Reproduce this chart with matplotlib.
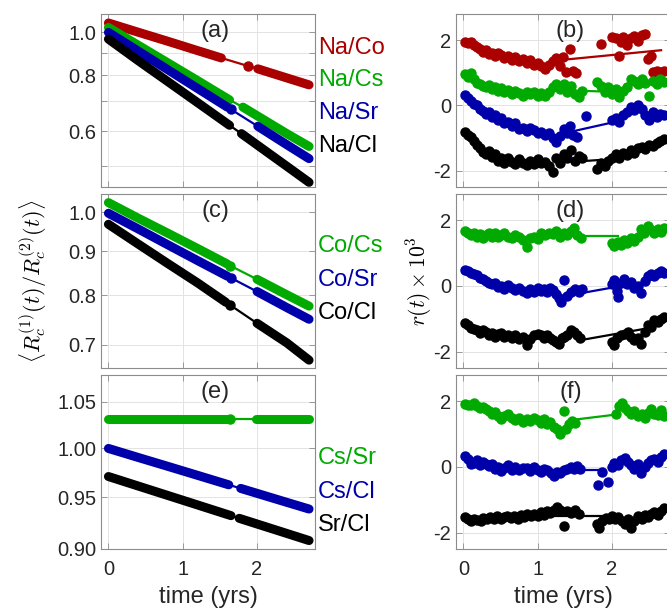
import numpy as np
import matplotlib
matplotlib.use("Agg")
import matplotlib.pyplot as plt

plt.rcParams['font.family'] = ['Liberation Sans', 'DejaVu Sans']
plt.rcParams['mathtext.fontset'] = 'cm'
plt.rcParams['axes.unicode_minus'] = False

RED = '#aa0000'
GREEN = '#00aa00'
BLUE = '#0000aa'
BLACK = '#000000'

# ---- left panels: ratio of count rates (values read at a few times) ----
# (a)
na_co_t = [0.0, 0.4, 0.8, 1.2, 1.52, 1.88, 2.01, 2.4, 2.7]
na_co_y = [1.050, 1.001, 0.955, 0.910, 0.876, 0.840, 0.828, 0.790, 0.762]
na_co_gap = (1.52, 2.01)
na_cs_t = [0.0, 0.4, 0.8, 1.2, 1.63, 1.81, 2.4, 2.7]
na_cs_y = [1.026, 0.936, 0.854, 0.779, 0.705, 0.679, 0.592, 0.554]
na_cs_gap = (1.63, 1.81)
na_sr_t = [0.0, 0.4, 0.8, 1.2, 1.6, 1.65, 2.01, 2.4, 2.7]
na_sr_y = [1.000, 0.908, 0.824, 0.748, 0.679, 0.671, 0.615, 0.559, 0.520]
na_sr_gap = (1.6, 2.01)
na_cl_t = [0.0, 0.4, 0.8, 1.2, 1.63, 1.79, 2.4, 2.7]
na_cl_y = [0.966, 0.864, 0.775, 0.695, 0.618, 0.592, 0.500, 0.460]
na_cl_gap = (1.63, 1.79)

# (c)
co_cs_t = [0.0, 0.4, 0.8, 1.2, 1.6, 1.64, 2.0, 2.4, 2.7]
co_cs_y = [1.026, 0.984, 0.945, 0.907, 0.870, 0.866, 0.835, 0.801, 0.777]
co_cs_gap = (1.6, 2.0)
co_sr_t = [0.0, 0.4, 0.8, 1.2, 1.6, 1.65, 2.0, 2.4, 2.7]
co_sr_y = [0.997, 0.956, 0.916, 0.878, 0.842, 0.838, 0.808, 0.774, 0.750]
co_sr_gap = (1.6, 2.0)
co_cl_t = [0.0, 0.4, 0.8, 1.2, 1.58, 1.64, 2.0, 2.4, 2.7]
co_cl_y = [0.968, 0.918, 0.871, 0.827, 0.785, 0.779, 0.742, 0.704, 0.672]
co_cl_gap = (1.58, 2.0)

# (e)
cs_sr_t = [0.0, 0.4, 0.8, 1.2, 1.6, 1.64, 1.98, 2.4, 2.7]
cs_sr_y = [1.031, 1.031, 1.031, 1.031, 1.031, 1.031, 1.031, 1.031, 1.031]
cs_sr_gap = (1.6, 1.98)
cs_cl_t = [0.0, 0.4, 0.8, 1.2, 1.62, 1.78, 2.4, 2.7]
cs_cl_y = [1.000, 0.9906, 0.9814, 0.9722, 0.9626, 0.9590, 0.9451, 0.9385]
cs_cl_gap = (1.62, 1.78)
sr_cl_t = [0.0, 0.4, 0.8, 1.2, 1.65, 1.76, 2.4, 2.7]
sr_cl_y = [0.971, 0.9614, 0.9519, 0.9425, 0.9320, 0.9294, 0.9148, 0.908]
sr_cl_gap = (1.65, 1.76)

# ---- right panels: residuals r(t) x 10^3 ----
# (b)
b_red_t = [0.02, 0.06, 0.1, 0.14, 0.18, 0.22, 0.26, 0.3, 0.34, 0.38, 0.42, 0.46, 0.5, 0.55, 0.6, 0.65,
           0.7, 0.75, 0.8, 0.85, 0.9, 0.95, 1.0, 1.05, 1.1, 1.15, 1.2, 1.25, 1.3, 1.34, 1.38, 1.44, 1.48,
           1.52, 1.85, 2.0, 2.05, 2.1, 2.12, 2.15, 2.2, 2.25, 2.3, 2.35, 2.4, 2.44, 2.48, 2.52, 2.55, 2.6,
           2.65, 2.7]
b_red_r = [1.95, 1.9, 1.93, 1.85, 1.78, 1.72, 1.65, 1.7, 1.58, 1.6, 1.5, 1.62, 1.55, 1.45, 1.52, 1.4,
           1.48, 1.35, 1.42, 1.3, 1.38, 1.25, 1.3, 1.2, 1.12, 1.25, 1.35, 1.45, 1.2, 1.48, 1.03, 1.72, 1.05,
           0.98, 1.88, 2.1, 2.05, 1.5, 1.95, 2.1, 1.85, 2.05, 2.12, 1.98, 2.15, 2.2, 1.43, 1.5, 1.03, 1.05,
           1.02, 1.05]
b_red_fit_t = [1.31, 2.66]
b_red_fit_r = [1.39, 1.69]
b_green_t = [0.02, 0.06, 0.1, 0.14, 0.18, 0.22, 0.26, 0.3, 0.34, 0.38, 0.42, 0.46, 0.5, 0.55, 0.6, 0.65,
             0.7, 0.75, 0.8, 0.85, 0.9, 0.95, 1.0, 1.05, 1.1, 1.15, 1.2, 1.25, 1.3, 1.35, 1.4, 1.45, 1.5,
             1.55, 1.6, 1.8, 1.85, 1.9, 1.95, 2.0, 2.05, 2.1, 2.15, 2.2, 2.25, 2.3, 2.35, 2.4, 2.45, 2.5,
             2.55, 2.6, 2.65, 2.7]
b_green_r = [0.95, 0.88, 1.0, 0.8, 0.7, 0.65, 0.6, 0.55, 0.62, 0.5, 0.55, 0.45, 0.52, 0.4, 0.48, 0.35,
             0.45, 0.38, 0.3, 0.42, 0.35, 0.4, 0.3, 0.38, 0.28, 0.42, 0.55, 0.67, 0.5, 0.65, 0.42, 0.6, 0.35,
             0.25, 0.45, 0.72, 0.6, 0.4, 0.55, 0.35, 0.5, 0.25, 0.45, 0.55, 0.82, 0.75, 0.65, 0.8, 0.7, 0.3,
             0.75, 0.65, 0.8, 0.72]
b_green_fit_t = [1.55, 1.95]
b_green_fit_r = [0.45, 0.42]
b_blue_t = [0.02, 0.06, 0.1, 0.14, 0.18, 0.22, 0.26, 0.3, 0.34, 0.38, 0.42, 0.46, 0.5, 0.55, 0.6, 0.65,
            0.7, 0.75, 0.8, 0.85, 0.9, 0.95, 1.0, 1.05, 1.1, 1.15, 1.2, 1.25, 1.3, 1.35, 1.4, 1.44, 1.48,
            1.53, 1.65, 2.0, 2.05, 2.1, 2.15, 2.2, 2.25, 2.3, 2.35, 2.4, 2.45, 2.5, 2.55, 2.6, 2.65, 2.7]
b_blue_r = [0.31, 0.22, 0.15, 0.05, 0.0, -0.1, -0.18, -0.25, -0.2, -0.35, -0.3, -0.45, -0.4, -0.55, -0.5,
            -0.62, -0.55, -0.72, -0.68, -0.78, -0.7, -0.75, -0.85, -0.8, -0.92, -0.85, -1.0, -1.12, -0.95,
            -0.72, -0.85, -0.62, -0.9, -0.97, -0.31, -0.45, -0.38, -0.5, -0.3, -0.2, -0.05, -0.15, 0.0, -0.1,
            -0.3, -0.45, -0.2, -0.35, -0.25, -0.28]
b_blue_fit_t = [1.42, 2.03]
b_blue_fit_r = [-0.82, -0.51]
b_black_t = [0.02, 0.06, 0.1, 0.14, 0.18, 0.22, 0.26, 0.3, 0.34, 0.38, 0.42, 0.46, 0.5, 0.55, 0.6, 0.65,
             0.7, 0.75, 0.8, 0.85, 0.9, 0.95, 1.0, 1.05, 1.1, 1.15, 1.2, 1.25, 1.3, 1.35, 1.4, 1.45, 1.5,
             1.55, 1.6, 1.8, 1.85, 1.9, 1.95, 2.0, 2.05, 2.1, 2.15, 2.2, 2.25, 2.3, 2.35, 2.4, 2.45, 2.5,
             2.55, 2.6, 2.65, 2.7]
b_black_r = [-0.82, -0.9, -0.97, -1.1, -1.2, -1.3, -1.42, -1.5, -1.4, -1.58, -1.5, -1.7, -1.62, -1.75,
             -1.6, -1.72, -1.8, -1.65, -1.75, -1.82, -1.7, -1.8, -1.65, -1.78, -1.72, -1.85, -2.05, -1.6,
             -1.75, -1.5, -1.62, -1.38, -1.7, -1.55, -1.62, -1.95, -1.75, -1.85, -1.7, -1.62, -1.5, -1.6,
             -1.45, -1.52, -1.38, -1.45, -1.3, -1.28, -1.35, -1.2, -1.25, -1.15, -1.08, -1.03]
b_black_fit_t = [1.58, 1.85]
b_black_fit_r = [-1.71, -1.67]

# (d)
d_green_t = [0.02, 0.06, 0.1, 0.14, 0.18, 0.22, 0.26, 0.3, 0.34, 0.38, 0.42, 0.46, 0.5, 0.55, 0.6, 0.65,
             0.7, 0.75, 0.8, 0.86, 0.9, 0.95, 1.0, 1.05, 1.1, 1.15, 1.2, 1.25, 1.3, 1.35, 1.4, 1.45, 1.49,
             1.53, 1.58, 2.0, 2.03, 2.08, 2.12, 2.16, 2.2, 2.25, 2.3, 2.35, 2.39, 2.43, 2.48, 2.52, 2.57,
             2.62, 2.66, 2.7]
d_green_r = [1.66, 1.6, 1.55, 1.62, 1.5, 1.58, 1.45, 1.55, 1.6, 1.5, 1.62, 1.48, 1.55, 1.62, 1.5, 1.45,
             1.55, 1.48, 1.4, 1.2, 1.45, 1.5, 1.42, 1.6, 1.55, 1.62, 1.58, 1.66, 1.5, 1.6, 1.55, 1.68, 1.77,
             1.55, 1.46, 1.3, 1.22, 1.35, 1.25, 1.4, 1.3, 1.45, 1.38, 1.5, 1.72, 1.6, 1.82, 1.7, 1.62, 1.72,
             1.65, 1.75]
d_green_fit_t = [1.4, 2.08]
d_green_fit_r = [1.51, 1.51]
d_blue_t = [0.02, 0.06, 0.1, 0.14, 0.18, 0.22, 0.26, 0.3, 0.34, 0.38, 0.42, 0.46, 0.5, 0.55, 0.6, 0.65,
            0.7, 0.75, 0.8, 0.86, 0.9, 0.95, 1.0, 1.04, 1.08, 1.12, 1.16, 1.2, 1.24, 1.28, 1.31, 1.35, 1.4,
            1.45, 1.5, 1.55, 1.6, 2.0, 2.03, 2.06, 2.08, 2.12, 2.16, 2.2, 2.25, 2.3, 2.35, 2.39, 2.44, 2.48,
            2.52, 2.57, 2.62, 2.66, 2.7]
d_blue_r = [0.49, 0.45, 0.4, 0.35, 0.32, 0.25, 0.2, 0.15, 0.1, 0.05, 0.08, -0.02, 0.0, -0.08, 0.02, -0.05,
            -0.12, -0.05, -0.15, -0.22, -0.1, -0.18, -0.05, -0.15, -0.1, -0.2, -0.05, -0.12, -0.25, -0.38,
            -0.5, 0.18, -0.3, -0.2, -0.1, -0.2, -0.08, 0.05, 0.18, -0.15, -0.33, 0.1, 0.2, 0.05, 0.12, -0.05,
            0.0, -0.22, 0.15, 0.29, 0.35, 0.3, 0.4, 0.44, 0.38]
d_blue_fit_t = [1.31, 2.03]
d_blue_fit_r = [-0.33, -0.04]
d_black_t = [0.02, 0.06, 0.1, 0.14, 0.18, 0.22, 0.26, 0.3, 0.34, 0.38, 0.42, 0.46, 0.5, 0.55, 0.6, 0.65,
             0.7, 0.75, 0.8, 0.86, 0.9, 0.95, 1.0, 1.04, 1.08, 1.12, 1.16, 1.2, 1.24, 1.28, 1.32, 1.36, 1.4,
             1.45, 1.49, 1.53, 1.57, 2.0, 2.03, 2.07, 2.12, 2.17, 2.21, 2.26, 2.3, 2.35, 2.39, 2.44, 2.48,
             2.52, 2.57, 2.62, 2.66, 2.7]
d_black_r = [-1.14, -1.2, -1.28, -1.3, -1.35, -1.42, -1.35, -1.4, -1.5, -1.42, -1.55, -1.45, -1.44, -1.55,
             -1.48, -1.6, -1.5, -1.62, -1.55, -1.8, -1.62, -1.5, -1.45, -1.5, -1.58, -1.48, -1.6, -1.65, -1.7,
             -1.76, -1.6, -1.55, -1.48, -1.35, -1.4, -1.5, -1.6, -1.72, -1.8, -1.6, -1.5, -1.45, -1.4, -1.55,
             -1.65, -1.6, -1.76, -1.4, -1.19, -1.25, -1.03, -1.1, -1.0, -0.95]
d_black_fit_t = [1.58, 2.48]
d_black_fit_r = [-1.65, -1.29]

# (f)
f_green_t = [0.02, 0.06, 0.1, 0.14, 0.18, 0.22, 0.26, 0.3, 0.34, 0.38, 0.42, 0.46, 0.5, 0.55, 0.6, 0.65,
             0.7, 0.75, 0.8, 0.86, 0.9, 0.95, 1.0, 1.04, 1.08, 1.13, 1.17, 1.22, 1.26, 1.3, 1.35, 1.38, 1.42,
             1.46, 1.5, 2.05, 2.1, 2.13, 2.17, 2.21, 2.26, 2.3, 2.35, 2.4, 2.44, 2.48, 2.53, 2.57, 2.62, 2.66,
             2.7]
f_green_r = [1.93, 1.88, 1.9, 1.95, 1.85, 1.8, 1.82, 1.75, 1.7, 1.62, 1.68, 1.55, 1.45, 1.55, 1.62, 1.5,
             1.42, 1.5, 1.38, 1.47, 1.4, 1.5, 1.42, 1.35, 1.45, 1.32, 1.38, 1.22, 1.15, 1.0, 1.69, 1.15, 1.3,
             1.4, 1.35, 1.6, 1.85, 1.95, 1.8, 1.7, 1.6, 1.69, 1.55, 1.62, 1.5, 1.65, 1.75, 1.6, 1.58, 1.72,
             1.55]
f_green_fit_t = [1.42, 2.0]
f_green_fit_r = [1.42, 1.58]
f_blue_t = [0.02, 0.06, 0.1, 0.14, 0.18, 0.22, 0.26, 0.3, 0.34, 0.38, 0.42, 0.46, 0.5, 0.55, 0.6, 0.65,
            0.7, 0.75, 0.8, 0.86, 0.9, 0.95, 1.0, 1.04, 1.08, 1.13, 1.18, 1.22, 1.26, 1.3, 1.35, 1.4, 1.45,
            1.49, 1.53, 1.57, 1.81, 1.87, 1.94, 2.0, 2.03, 2.08, 2.12, 2.17, 2.21, 2.26, 2.3, 2.35, 2.39,
            2.44, 2.48, 2.53, 2.57, 2.62, 2.66, 2.7]
f_blue_r = [0.33, 0.25, 0.1, 0.12, 0.2, 0.05, 0.15, 0.1, 0.02, 0.08, -0.05, 0.0, -0.13, -0.02, 0.05, -0.08,
            0.0, -0.1, -0.02, -0.03, -0.12, 0.0, -0.08, -0.15, -0.05, -0.1, -0.2, -0.29, -0.15, -0.2, -0.1,
            -0.05, 0.0, -0.05, 0.02, -0.05, -0.55, -0.15, -0.45, 0.0, 0.12, 0.05, 0.2, 0.28, 0.15, 0.05,
            -0.05, 0.1, -0.19, 0.0, 0.12, 0.2, 0.25, 0.15, 0.3, 0.38]
f_blue_fit_t = [1.58, 1.87]
f_blue_fit_r = [-0.08, -0.08]
f_black_t = [0.02, 0.06, 0.1, 0.14, 0.18, 0.23, 0.27, 0.32, 0.36, 0.41, 0.45, 0.5, 0.55, 0.59, 0.64, 0.68,
             0.73, 0.77, 0.82, 0.86, 0.91, 0.95, 1.0, 1.04, 1.08, 1.13, 1.17, 1.22, 1.26, 1.3, 1.35, 1.4,
             1.45, 1.5, 1.55, 1.8, 1.83, 1.87, 1.92, 1.96, 2.0, 2.04, 2.08, 2.13, 2.17, 2.22, 2.26, 2.3,
             2.35, 2.4, 2.44, 2.48, 2.53, 2.57, 2.62, 2.66, 2.7]
f_black_r = [-1.54, -1.6, -1.65, -1.58, -1.62, -1.64, -1.55, -1.6, -1.52, -1.59, -1.5, -1.58, -1.54, -1.48,
             -1.56, -1.5, -1.58, -1.45, -1.52, -1.42, -1.5, -1.43, -1.48, -1.38, -1.45, -1.33, -1.4, -1.3,
             -1.23, -1.3, -1.8, -1.35, -1.4, -1.32, -1.42, -1.75, -1.85, -1.65, -1.55, -1.6, -1.5, -1.58,
             -1.54, -1.65, -1.75, -1.6, -1.85, -1.65, -1.5, -1.6, -1.45, -1.52, -1.43, -1.38, -1.45, -1.33,
             -1.25]
f_black_fit_t = [1.21, 1.87]
f_black_fit_r = [-1.48, -1.48]

XLIM = (-0.1, 2.78)
TICK_COLOR = '#262626'
FRAME_COLOR = '#8c8c8c'


def style_axes(ax, bottom):
    ax.set_xlim(*XLIM)
    ax.set_xticks([0, 1, 2])
    ax.grid(True, color='#e3e3e3', lw=0.7)
    ax.set_axisbelow(True)
    ax.tick_params(direction='in', length=4, width=0.6, top=True, right=True,
                   colors=FRAME_COLOR, labelcolor=TICK_COLOR, labelsize=14.5)
    ax.tick_params(axis='x', pad=8)
    for sp in ax.spines.values():
        sp.set_color(FRAME_COLOR)
        sp.set_linewidth(0.8)
    if bottom:
        ax.set_xlabel('time (yrs)', fontsize=17, color=TICK_COLOR, labelpad=5)
    else:
        ax.set_xticklabels([])


def ratio_line(ax, t, y, gap, color):
    t = np.asarray(t)
    y = np.asarray(y)
    ax.plot(t, y, '-', color=color, lw=1.6)
    before = t <= gap[0]
    after = t >= gap[1]
    inside = ~before & ~after
    for m in (before, after):
        ax.plot(t[m], y[m], '-', color=color, lw=6.5, solid_capstyle='round')
    ax.plot(t[inside], y[inside], 'o', color=color, ms=6.5, mec=color)


def resid(ax, t, r, fit_t, fit_r, color):
    ax.plot(fit_t, fit_r, '-', color=color, lw=1.6)
    ax.plot(t, r, 'o', color=color, ms=6.5, mec=color, lw=0)


fig = plt.figure(figsize=(6.67, 6.13), dpi=100)
W, H = 667.0, 613.0
rows = [(14, 187), (194, 368), (375, 549)]


def axes_at(x0, row):
    top, bot = row
    return fig.add_axes([x0 / W, 1 - bot / H, 214 / W, (bot - top) / H])


ax_a = axes_at(101, rows[0])
ax_c = axes_at(101, rows[1])
ax_e = axes_at(101, rows[2])
ax_b = axes_at(456, rows[0])
ax_d = axes_at(456, rows[1])
ax_f = axes_at(456, rows[2])

# (a)
ratio_line(ax_a, na_co_t, na_co_y, na_co_gap, RED)
ratio_line(ax_a, na_cs_t, na_cs_y, na_cs_gap, GREEN)
ratio_line(ax_a, na_sr_t, na_sr_y, na_sr_gap, BLUE)
ratio_line(ax_a, na_cl_t, na_cl_y, na_cl_gap, BLACK)
ax_a.set_yscale('log')
ax_a.set_ylim(0.449, 1.10)
ax_a.set_yticks([0.5, 0.6, 0.7, 0.8, 0.9, 1.0])
ax_a.set_yticklabels(['', '0.6', '', '0.8', '', '1.0'])
ax_a.minorticks_off()

# (c)
ratio_line(ax_c, co_cs_t, co_cs_y, co_cs_gap, GREEN)
ratio_line(ax_c, co_sr_t, co_sr_y, co_sr_gap, BLUE)
ratio_line(ax_c, co_cl_t, co_cl_y, co_cl_gap, BLACK)
ax_c.set_yscale('log')
ax_c.set_ylim(0.658, 1.05)
ax_c.set_yticks([0.7, 0.8, 0.9, 1.0])
ax_c.set_yticklabels(['0.7', '0.8', '0.9', '1.0'])
ax_c.minorticks_off()

# (e)
ratio_line(ax_e, cs_sr_t, cs_sr_y, cs_sr_gap, GREEN)
ratio_line(ax_e, cs_cl_t, cs_cl_y, cs_cl_gap, BLUE)
ratio_line(ax_e, sr_cl_t, sr_cl_y, sr_cl_gap, BLACK)
ax_e.set_yscale('log')
ax_e.set_ylim(0.90, 1.08)
ax_e.set_yticks([0.90, 0.95, 1.00, 1.05])
ax_e.set_yticklabels(['0.90', '0.95', '1.00', '1.05'])
ax_e.minorticks_off()

resid(ax_b, b_red_t, b_red_r, b_red_fit_t, b_red_fit_r, RED)
resid(ax_b, b_green_t, b_green_r, b_green_fit_t, b_green_fit_r, GREEN)
resid(ax_b, b_blue_t, b_blue_r, b_blue_fit_t, b_blue_fit_r, BLUE)
resid(ax_b, b_black_t, b_black_r, b_black_fit_t, b_black_fit_r, BLACK)

resid(ax_d, d_green_t, d_green_r, d_green_fit_t, d_green_fit_r, GREEN)
resid(ax_d, d_blue_t, d_blue_r, d_blue_fit_t, d_blue_fit_r, BLUE)
resid(ax_d, d_black_t, d_black_r, d_black_fit_t, d_black_fit_r, BLACK)

resid(ax_f, f_green_t, f_green_r, f_green_fit_t, f_green_fit_r, GREEN)
resid(ax_f, f_blue_t, f_blue_r, f_blue_fit_t, f_blue_fit_r, BLUE)
resid(ax_f, f_black_t, f_black_r, f_black_fit_t, f_black_fit_r, BLACK)

for ax in (ax_b, ax_d, ax_f):
    ax.set_ylim(-2.5, 2.8)
    ax.set_yticks([-2, 0, 2])
    ax.set_yticklabels(['-2', '0', '2'])

for ax, bottom in ((ax_a, False), (ax_c, False), (ax_e, True),
                   (ax_b, False), (ax_d, False), (ax_f, True)):
    style_axes(ax, bottom)

for ax, lab in zip((ax_a, ax_b, ax_c, ax_d, ax_e, ax_f), 'abcdef'):
    ax.text(0.535, 0.9, '(%s)' % lab, transform=ax.transAxes, ha='center', va='center',
            fontsize=17, color=TICK_COLOR)

pairs_a = [('Na/Co', RED, 0.803), ('Na/Cs', GREEN, 0.618), ('Na/Sr', BLUE, 0.428), ('Na/Cl', BLACK, 0.237)]
pairs_c = [('Co/Cs', GREEN, 0.701), ('Co/Sr', BLUE, 0.506), ('Co/Cl', BLACK, 0.316)]
pairs_e = [('Cs/Sr', GREEN, 0.523), ('Cs/Cl', BLUE, 0.328), ('Sr/Cl', BLACK, 0.138)]
for ax, pairs in ((ax_a, pairs_a), (ax_c, pairs_c), (ax_e, pairs_e)):
    for name, col, yy in pairs:
        ax.text(1.014, yy, name, transform=ax.transAxes, ha='left', va='center',
                fontsize=17, color=col)

fig.text(33 / W, 1 - 281 / H,
         r'$\left\langle R_c^{(1)}(t)/R_c^{(2)}(t)\right\rangle$',
         rotation=90, ha='center', va='center', fontsize=16)
fig.text(419 / W, 1 - 281 / H, r'$r(t)\times10^3$', rotation=90,
         ha='center', va='center', fontsize=15.5)

fig.savefig('out.png', dpi=100)
